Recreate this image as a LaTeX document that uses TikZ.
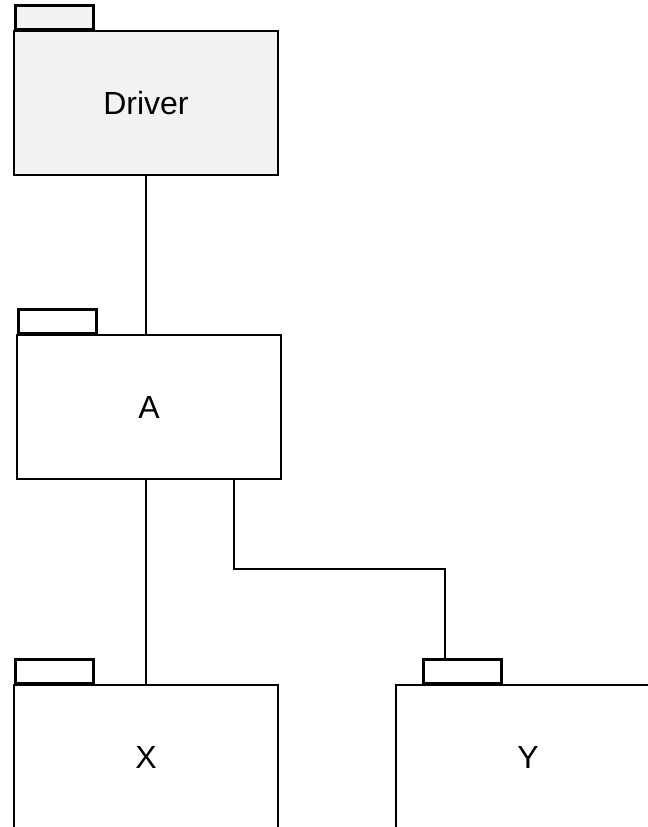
\documentclass[tikz,border=0pt]{standalone}
\usepackage{fontspec}
\setmainfont{Liberation Sans}
\definecolor{drvgray}{HTML}{F2F2F2}
\begin{document}
\begin{tikzpicture}[x=0.75pt,y=-0.75pt,line width=2.1pt,
  body/.style={draw, minimum width=198pt, minimum height=108pt, inner sep=0pt,
    font=\fontsize{24}{28}\selectfont},
  pkgtab/.style={draw, minimum width=58.5pt, minimum height=18pt, inner sep=0pt, anchor=south west},
  wire/.style={draw, line width=2.1pt}]
\useasboundingbox (0,0) rectangle (648,827);
\clip (0,0) rectangle (648,827);
% Driver
\node[pkgtab, fill=drvgray] (dtab) at (14,31) {};
\node[body, fill=drvgray, text height=17pt, text depth=-1.5pt] (driver) at (146,103) {Driver};
% A
\node[pkgtab] (atab) at (17,335) {};
\node[body] (A) at (149,407) {A};
% X
\node[pkgtab] (xtab) at (14,685) {};
\node[body] (X) at (146,757) {X};
% Y
\node[pkgtab] (ytab) at (422,685) {};
\node[body] (Y) at (528,757) {Y};
% connectors
\draw[wire] (driver.south) -- (driver.south |- A.north);
\draw[wire] (X.north |- A.south) -- (X.north);
\draw[wire] (A.south -| 234,0) -- (234,569) -- (445,569) -- (ytab.north -| 445,0);
\end{tikzpicture}
\end{document}
